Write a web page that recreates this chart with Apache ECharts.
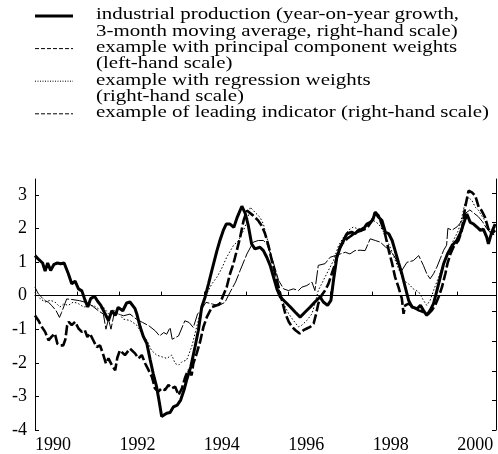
<!DOCTYPE html>
<html>
<head>
<meta charset="utf-8">
<script src="https://cdn.jsdelivr.net/npm/echarts@6/dist/echarts.min.js"></script>
<style>
  html, body { margin: 0; padding: 0; background: #fff; }
  #chart { width: 498px; height: 454px; }
</style>
</head>
<body>
<div id="chart"></div>
<script>
// tick positions / labels
const yTicks = [-4, -3, -2, -1, 0, 1, 2, 3];
const xTicks = [1990, 1991, 1992, 1993, 1994, 1995, 1996, 1997, 1998, 1999, 2000];
const xLabels = [1990, 1992, 1994, 1996, 1998, 2000];

// legend text (two lines per entry where wrapped)
const legendLabels = [
  ["industrial production (year-on-year growth,", "3-month moving average, right-hand scale)"],
  ["example with principal component weights", "(left-hand scale)"],
  ["example with regression weights", "(right-hand scale)"],
  ["example of leading indicator (right-hand scale)"]
];

// series values [decimal year, value]
const industrialProduction = [
  [1990.00,1.19],[1990.10,1.06],[1990.18,0.97],[1990.24,0.73],[1990.30,0.97],[1990.37,0.75],[1990.45,0.93],
  [1990.53,0.97],[1990.61,0.95],[1990.69,0.97],[1990.79,0.65],[1990.87,0.35],[1990.95,0.43],[1991.03,0.20],
  [1991.11,0.14],[1991.18,-0.12],[1991.25,-0.34],[1991.32,-0.09],[1991.41,-0.02],[1991.48,-0.16],[1991.56,-0.29],
  [1991.66,-0.54],[1991.74,-0.74],[1991.82,-0.45],[1991.90,-0.59],[1991.97,-0.35],[1992.08,-0.45],[1992.17,-0.22],
  [1992.25,-0.19],[1992.37,-0.39],[1992.41,-0.54],[1992.49,-0.93],[1992.57,-1.23],[1992.65,-1.43],[1992.73,-1.92],
  [1992.80,-2.32],[1992.88,-2.71],[1992.95,-3.21],[1993.00,-3.60],[1993.12,-3.50],[1993.20,-3.48],[1993.28,-3.31],
  [1993.37,-3.26],[1993.45,-3.11],[1993.53,-2.81],[1993.59,-2.52],[1993.69,-2.12],[1993.79,-1.53],[1993.87,-1.03],
  [1993.95,-0.34],[1994.03,-0.04],[1994.11,0.35],[1994.19,0.75],[1994.31,1.34],[1994.38,1.64],[1994.46,1.94],
  [1994.53,2.13],[1994.62,2.13],[1994.71,2.03],[1994.79,2.33],[1994.90,2.66],[1994.98,2.45],[1995.05,2.10],
  [1995.13,1.54],[1995.21,1.39],[1995.33,1.44],[1995.41,1.34],[1995.49,1.14],[1995.57,0.90],[1995.65,0.55],
  [1995.73,0.20],[1995.81,-0.04],[1995.93,-0.19],[1996.05,-0.34],[1996.16,-0.49],[1996.28,-0.64],[1996.40,-0.49],
  [1996.52,-0.34],[1996.63,-0.19],[1996.75,-0.04],[1996.83,-0.19],[1996.93,-0.29],[1997.01,-0.14],[1997.07,0.45],
  [1997.15,1.14],[1997.23,1.44],[1997.31,1.64],[1997.39,1.84],[1997.50,1.89],[1997.58,1.84],[1997.66,1.94],
  [1997.78,1.98],[1997.86,2.13],[1997.94,2.18],[1998.00,2.25],[1998.06,2.48],[1998.14,2.33],[1998.22,2.23],
  [1998.30,1.89],[1998.38,1.84],[1998.46,1.64],[1998.53,1.34],[1998.61,0.99],[1998.69,0.65],[1998.77,0.25],
  [1998.85,-0.14],[1998.93,-0.34],[1999.05,-0.39],[1999.13,-0.29],[1999.20,-0.44],[1999.28,-0.59],[1999.36,-0.44],
  [1999.44,-0.24],[1999.52,0.15],[1999.60,0.55],[1999.68,0.95],[1999.77,1.24],[1999.88,1.49],[1999.99,1.64],
  [2000.07,1.84],[2000.15,2.13],[2000.23,2.43],[2000.31,2.18],[2000.39,2.13],[2000.47,2.04],[2000.55,1.94],
  [2000.62,1.98],[2000.70,1.74],[2000.74,1.54],[2000.82,1.89],[2000.90,2.13]
];

const principalComponent = [
  [1990.00,-0.59],[1990.08,-0.74],[1990.16,-0.93],[1990.24,-1.08],[1990.32,-1.33],[1990.39,-1.23],[1990.47,-1.13],
  [1990.53,-1.43],[1990.58,-1.48],[1990.67,-1.48],[1990.72,-1.30],[1990.76,-0.90],[1990.80,-0.78],[1990.87,-0.88],
  [1990.95,-0.78],[1991.03,-0.98],[1991.11,-1.08],[1991.18,-1.03],[1991.24,-1.23],[1991.30,-1.13],[1991.38,-1.33],
  [1991.46,-1.53],[1991.54,-1.48],[1991.62,-1.77],[1991.68,-2.02],[1991.74,-1.87],[1991.82,-2.07],[1991.90,-2.22],
  [1991.95,-1.85],[1992.01,-1.63],[1992.13,-1.77],[1992.25,-1.58],[1992.37,-1.72],[1992.45,-1.87],[1992.53,-1.77],
  [1992.61,-2.02],[1992.69,-2.22],[1992.77,-2.42],[1992.84,-2.76],[1992.92,-2.86],[1993.00,-2.76],[1993.08,-2.81],
  [1993.16,-2.66],[1993.24,-2.76],[1993.32,-2.71],[1993.40,-2.96],[1993.48,-2.76],[1993.56,-2.42],[1993.63,-2.22],
  [1993.71,-2.37],[1993.75,-2.02],[1993.83,-1.72],[1993.91,-1.38],[1993.99,-0.93],[1994.07,-0.64],[1994.19,-0.34],
  [1994.31,-0.29],[1994.38,-0.24],[1994.46,0.01],[1994.54,0.25],[1994.62,0.65],[1994.70,0.95],[1994.78,1.34],
  [1994.86,1.74],[1994.94,2.23],[1995.02,2.53],[1995.06,2.48],[1995.17,2.38],[1995.29,2.23],[1995.37,2.08],
  [1995.45,1.84],[1995.53,1.49],[1995.61,1.04],[1995.69,0.65],[1995.77,0.25],[1995.85,-0.14],[1995.93,-0.54],
  [1996.01,-0.78],[1996.09,-0.93],[1996.17,-1.03],[1996.27,-1.13],[1996.36,-1.03],[1996.44,-0.98],[1996.52,-0.93],
  [1996.60,-0.83],[1996.66,-0.54],[1996.71,-0.24],[1996.79,0.01],[1996.87,0.15],[1996.95,0.35],[1997.03,0.65],
  [1997.11,0.95],[1997.19,1.34],[1997.27,1.54],[1997.39,1.69],[1997.50,1.79],[1997.62,1.89],[1997.74,1.94],
  [1997.86,2.00],[1997.98,2.23],[1998.06,2.48],[1998.14,2.38],[1998.22,2.10],[1998.30,1.79],[1998.38,1.34],
  [1998.46,0.95],[1998.53,0.55],[1998.61,0.25],[1998.69,-0.09],[1998.73,-0.54],[1998.77,-0.29],[1998.85,-0.24],
  [1998.96,-0.34],[1999.09,-0.44],[1999.20,-0.49],[1999.32,-0.54],[1999.40,-0.44],[1999.48,-0.29],[1999.56,-0.04],
  [1999.64,0.25],[1999.72,0.65],[1999.77,0.95],[1999.84,1.24],[1999.91,1.44],[2000.03,1.64],[2000.11,1.94],
  [2000.19,2.63],[2000.27,3.12],[2000.35,3.07],[2000.43,2.97],[2000.51,2.63],[2000.58,2.53],[2000.66,2.33],
  [2000.74,1.98],[2000.82,1.84],[2000.90,1.94]
];

const regressionWeights = [
  [1990.00,0.10],[1990.12,-0.09],[1990.24,-0.19],[1990.36,-0.14],[1990.47,-0.19],[1990.59,-0.34],[1990.68,-0.25],
  [1990.79,-0.29],[1990.91,-0.19],[1991.03,-0.24],[1991.15,-0.34],[1991.26,-0.32],[1991.38,-0.29],[1991.50,-0.39],
  [1991.62,-0.34],[1991.74,-0.54],[1991.86,-0.44],[1991.97,-0.50],[1992.09,-0.70],[1992.25,-0.74],[1992.41,-0.88],
  [1992.53,-1.13],[1992.65,-1.33],[1992.76,-1.63],[1992.88,-1.77],[1993.00,-1.82],[1993.12,-1.87],[1993.24,-1.77],
  [1993.32,-2.02],[1993.40,-2.07],[1993.48,-1.97],[1993.59,-1.92],[1993.71,-1.53],[1993.83,-0.93],[1993.95,-0.34],
  [1994.07,0.06],[1994.19,0.35],[1994.31,0.55],[1994.42,0.80],[1994.54,1.14],[1994.70,1.49],[1994.82,1.64],
  [1994.94,1.94],[1995.02,2.20],[1995.10,2.63],[1995.21,2.48],[1995.33,2.33],[1995.41,2.13],[1995.49,1.74],
  [1995.57,1.34],[1995.65,0.85],[1995.73,0.45],[1995.81,0.06],[1995.89,-0.24],[1996.01,-0.54],[1996.12,-0.74],
  [1996.24,-0.93],[1996.32,-0.88],[1996.44,-0.74],[1996.56,-0.54],[1996.64,-0.20],[1996.71,0.15],[1996.83,0.45],
  [1996.95,0.75],[1997.07,1.04],[1997.19,1.49],[1997.31,1.74],[1997.42,1.94],[1997.54,2.04],[1997.66,1.98],
  [1997.78,2.04],[1997.90,2.13],[1998.02,2.23],[1998.14,2.13],[1998.26,1.89],[1998.38,1.54],[1998.49,1.19],
  [1998.61,0.80],[1998.73,0.45],[1998.85,0.35],[1998.96,0.20],[1999.09,0.11],[1999.20,-0.14],[1999.28,-0.29],
  [1999.36,-0.14],[1999.44,0.15],[1999.56,0.55],[1999.68,0.95],[1999.80,1.34],[1999.91,1.64],[2000.03,1.94],
  [2000.11,2.33],[2000.19,2.78],[2000.27,2.92],[2000.35,2.83],[2000.43,2.63],[2000.51,2.53],[2000.58,2.38],
  [2000.66,2.23],[2000.74,1.98],[2000.82,1.84],[2000.90,2.04]
];

const leadingIndicator = [
  [1990.00,0.25],[1990.08,0.05],[1990.16,-0.05],[1990.24,-0.15],[1990.32,-0.20],[1990.40,-0.30],[1990.50,-0.45],
  [1990.58,-0.65],[1990.63,-0.50],[1990.75,-0.10],[1990.90,-0.12],[1991.05,-0.15],[1991.20,-0.20],[1991.35,-0.30],
  [1991.50,-0.45],[1991.62,-0.55],[1991.68,-1.00],[1991.74,-0.70],[1991.80,-1.00],[1991.88,-0.50],[1991.97,-0.55],
  [1992.10,-0.60],[1992.25,-0.55],[1992.40,-0.70],[1992.55,-0.80],[1992.70,-0.90],[1992.85,-1.05],[1992.95,-1.20],
  [1993.05,-1.10],[1993.12,-1.15],[1993.20,-0.95],[1993.25,-1.30],[1993.40,-1.20],[1993.55,-0.75],[1993.65,-0.80],
  [1993.75,-0.95],[1993.85,-0.55],[1993.95,-0.40],[1994.05,-0.20],[1994.20,-0.25],[1994.35,-0.30],[1994.50,-0.20],
  [1994.62,0.10],[1994.75,0.40],[1994.86,0.75],[1995.02,1.24],[1995.17,1.59],[1995.29,1.64],[1995.41,1.64],
  [1995.49,1.54],[1995.61,1.14],[1995.69,0.80],[1995.77,0.45],[1995.89,0.20],[1996.00,0.15],[1996.12,0.20],
  [1996.24,0.15],[1996.32,0.25],[1996.44,0.30],[1996.56,0.40],[1996.63,0.15],[1996.71,0.90],[1996.87,0.95],
  [1996.99,1.14],[1997.11,1.19],[1997.23,1.24],[1997.35,1.29],[1997.46,1.24],[1997.58,1.34],[1997.70,1.35],
  [1997.82,1.34],[1997.94,1.69],[1998.06,1.64],[1998.18,1.59],[1998.30,1.45],[1998.41,1.34],[1998.53,1.14],
  [1998.61,0.90],[1998.69,0.75],[1998.81,0.99],[1998.96,1.04],[1999.09,1.19],[1999.20,0.90],[1999.28,0.65],
  [1999.36,0.50],[1999.44,0.65],[1999.52,0.85],[1999.60,1.10],[1999.68,1.35],[1999.75,1.50],[1999.78,2.00],
  [1999.88,1.95],[2000.00,2.05],[2000.10,2.20],[2000.20,2.45],[2000.30,2.55],[2000.40,2.45],[2000.50,2.35],
  [2000.60,2.20],[2000.70,2.00],[2000.80,1.85],[2000.90,1.80]
];

const FONT = "Liberation Serif";

// legend drawn as graphic so the sample sits on the first text line
const legendLines = [
  { width: 3, dash: null },
  { width: 1, dash: [4, 2] },
  { width: 1, dash: [1, 1.5] },
  { width: 1, dash: [4, 2] }
];
const legendGraphic = [];
let lineY = 15;
legendLabels.forEach((rows, i) => {
  legendGraphic.push({
    type: "line",
    shape: { x1: 35, y1: lineY + 1, x2: 73, y2: lineY + 1 },
    style: { stroke: "#000", lineWidth: legendLines[i].width, lineDash: legendLines[i].dash }
  });
  rows.forEach((txt) => {
    legendGraphic.push({
      type: "text",
      x: 96,
      y: lineY,
      scaleX: 1.23,
      style: { text: txt, fill: "#000", font: "17px '" + FONT + "'", verticalAlign: "middle", align: "left" }
    });
    lineY += 16.3;
  });
});

const chart = echarts.init(document.getElementById("chart"), null, { renderer: "canvas" });

const lineSeries = (data, width, type) => ({
  type: "line",
  data: data,
  yAxisIndex: 0,
  symbol: "none",
  smooth: false,
  lineStyle: { color: "#000", width: width, type: type },
  emphasis: { disabled: true }
});

chart.setOption({
  backgroundColor: "#fff",
  animation: false,
  graphic: legendGraphic,
  grid: { left: 35, right: 2, top: 179, bottom: 22 },
  xAxis: {
    type: "value",
    min: 1990,
    max: 2000.92,
    interval: 1,
    axisLine: { show: true, lineStyle: { color: "#000", width: 1 } },
    axisTick: { show: true, inside: true, length: 4, customValues: xTicks, lineStyle: { color: "#000" } },
    axisLabel: {
      customValues: xLabels,
      align: "left",
      margin: 6,
      color: "#000",
      fontFamily: FONT,
      fontSize: 18,
      formatter: (v) => String(v)
    },
    splitLine: { show: false }
  },
  yAxis: [
    {
      type: "value",
      min: -4,
      max: 3.47,
      interval: 1,
      axisLine: { show: true, lineStyle: { color: "#000", width: 1 } },
      axisTick: { show: true, inside: true, length: 4, customValues: yTicks, lineStyle: { color: "#000" } },
      axisLabel: { customValues: yTicks, margin: 8, color: "#000", fontFamily: FONT, fontSize: 18 },
      splitLine: { show: false }
    },
    {
      type: "value",
      position: "right",
      min: -8,
      max: 8.95,
      interval: 2,
      axisLine: { show: true, lineStyle: { color: "#000", width: 1 } },
      axisTick: { show: true, inside: true, length: 4, customValues: [-8, -6, -4, -2, 0, 2, 4, 6, 8], lineStyle: { color: "#000" } },
      axisLabel: { show: false },
      splitLine: { show: false }
    }
  ],
  series: [
    lineSeries(leadingIndicator, 1, [14, 2]),
    lineSeries(regressionWeights, 1, [1.5, 2]),
    lineSeries(principalComponent, 2.6, [10, 3]),
    lineSeries(industrialProduction, 3, "solid")
  ]
});
</script>
</body>
</html>
